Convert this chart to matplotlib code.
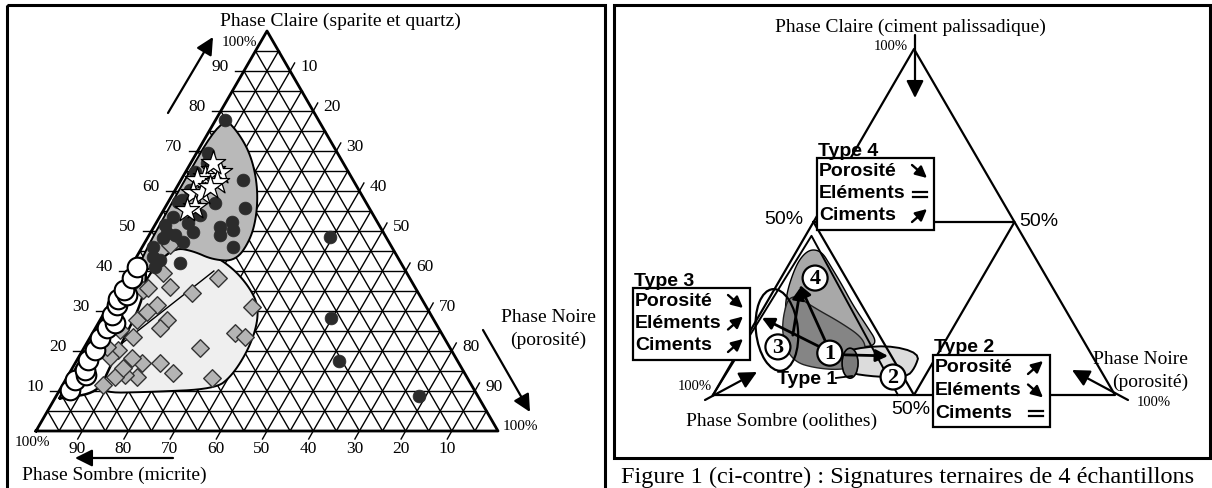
import numpy as np
import matplotlib
matplotlib.use("Agg")
import matplotlib.pyplot as plt
from matplotlib.patches import Polygon, Ellipse, Circle, Rectangle

SERIF = ['Liberation Serif', 'DejaVu Serif']
SANS = ['Liberation Sans', 'DejaVu Sans']
plt.rcParams['font.family'] = SERIF

# ================= DATA =================
# Left diagram: each point given as (Phase Claire %, Phase Noire %); Phase Sombre = 100 - both
micrite_claire = [77.8, 69.5, 67.0, 62.8, 57.0, 55.8, 57.3, 53.5, 52.0, 49.8, 54.0, 51.0,
                  49.0, 52.3, 50.3, 46.0, 49.5, 49.0, 48.3, 47.3, 46.0, 43.5, 42.0, 41.0,
                  42.8, 48.5, 28.3, 17.5, 8.8, 64.8, 57.8, 60.3, 54.5, 51.5]
micrite_noire = [2.0, 2.5, 3.5, 13.4, 10.2, 17.3, 2.1, 2.9, 6.9, 9.1, 8.5, 14.3,
                 15.3, 16.3, 17.5, 19.6, 3.6, 5.6, 3.4, 8.2, 2.3, 3.6, 10.2, 5.3,
                 5.4, 39.4, 49.7, 56.8, 78.5, 2.0, 2.7, 3.2, 7.6, 2.2]

star_claire = [65.3, 63.5, 64.8, 62.8, 59.5, 59.5, 56.0, 55.3, 62.3, 61.0, 67.0]
star_noire = [5.7, 4.8, 7.4, 3.5, 4.2, 6.2, 6.4, 5.0, 8.0, 7.2, 4.8]

open_claire = [10.3, 12.8, 14.0, 15.3, 17.8, 20.3, 23.3, 25.8, 27.0, 29.0, 31.5, 33.0,
               34.0, 35.3, 38.3, 41.0]
open_noire = [2.2, 2.0, 3.8, 3.0, 2.4, 2.6, 2.2, 2.5, 3.5, 1.9, 1.8, 1.2,
              2.7, 1.5, 1.6, 1.4]

diam_claire = [46.5, 39.5, 36.0, 34.5, 38.3, 31.0, 27.8, 25.8, 24.5, 23.5, 20.8, 17.0,
               14.5, 13.3, 17.0, 18.3, 13.5, 14.0, 13.5, 20.3, 18.5, 23.5, 27.8, 35.3,
               31.5, 29.8, 25.3, 21.0, 15.8, 11.5, 35.8]
diam_noire = [5.8, 7.7, 11.0, 16.5, 20.3, 31.3, 14.5, 13.9, 30.8, 33.5, 25.1, 18.3,
              22.4, 31.4, 14.4, 11.6, 15.1, 12.3, 10.3, 7.6, 6.8, 9.2, 8.0, 5.5,
              10.4, 9.1, 5.5, 4.9, 10.9, 8.7, 6.3]

# region outlines (Claire %, Noire %)
zone_sparite_claire = [78.8, 74.8, 69.0, 61.5, 54.0, 47.8, 42.5, 42.8, 45.0, 45.8, 42.3, 39.8, 39.8, 60.0]
zone_sparite_noire = [0.9, 6.3, 12.0, 17.2, 20.8, 22.5, 22.0, 16.9, 11.5, 7.2, 5.3, 3.7, 1.3, 0.8]
zone_micrite_claire = [9.5, 9.75, 10.5, 13.75, 20.25, 26.5, 31.5, 35.75, 40.25, 43.75, 45.75,
                       45.75, 42.25, 35.25, 24.0, 14.0]
zone_micrite_noire = [8.7, 19.8, 33.5, 35.5, 35.8, 34.6, 32.3, 28.4, 22.9, 16.9, 11.5,
                      7.2, 5.3, 4.9, 6.2, 7.9]
zone_open_claire = [8.25, 9.5, 16.0, 22.75, 31.0, 38.5, 43.25, 43.25, 25.0, 7.75]
zone_open_noire = [1.1, 8.7, 8.0, 7.5, 7.0, 4.8, 1.5, 0.4, 0.6, 0.9]

tick_values = [10, 20, 30, 40, 50, 60, 70, 80, 90]

# Right diagram (Claire %, Noire %)
sample_ids = ['1', '2', '3', '4']
sample_claire = [12.1, 5.2, 13.9, 33.8]
sample_noire = [23.0, 42.2, 9.2, 8.5]

zone4_claire = [42.2, 41.3, 37.6, 31.8, 26.0, 20.2, 15.0, 13.6, 15.9, 20.2, 21.7, 28.9, 36.7, 40.5]
zone4_noire = [3.5, 6.5, 10.3, 16.2, 21.8, 28.0, 33.5, 31.0, 23.6, 14.0, 7.1, 3.7, 2.0, 2.1]
zone_dark_claire = [29.8, 25.1, 21.1, 16.5, 12.4, 8.7, 7.2, 7.8, 9.5, 14.5, 21.7]
zone_dark_noire = [4.3, 12.8, 21.0, 29.1, 31.9, 32.2, 28.0, 21.5, 15.6, 10.4, 6.3]
zone2_claire = [13.0, 14.5, 12.1, 7.8, 5.2, 5.2, 6.4, 10.1]
zone2_noire = [26.3, 36.0, 45.4, 46.3, 45.6, 38.2, 30.1, 27.0]

# evolution arrows: (tail Claire, tail Noire, head Claire, head Noire)
evol_arrows = [(11.6, 27.0, 11.3, 37.9),
               (13.6, 20.3, 22.3, 1.0),
               (15.3, 20.4, 31.8, 5.7),
               (17.3, 11.2, 31.2, 6.2)]

# ================= HELPERS =================
def tern(tri, C, N):
    BL, BR, T = tri
    C = np.asarray(C, float); N = np.asarray(N, float)
    S = 100.0 - C - N
    x = (S * BL[0] + C * T[0] + N * BR[0]) / 100.0
    y = (S * BL[1] + C * T[1] + N * BR[1]) / 100.0
    return x, y

def chaikin(x, y, it=3):
    P = np.column_stack([x, y])
    for _ in range(it):
        Q = []
        n = len(P)
        for i in range(n):
            a = P[i]; b = P[(i + 1) % n]
            Q.append(0.75 * a + 0.25 * b)
            Q.append(0.25 * a + 0.75 * b)
        P = np.array(Q)
    return P

fig = plt.figure(figsize=(12.12, 4.88), dpi=100)
ax = fig.add_axes([0, 0, 1, 1])
ax.set_xlim(0, 1212)
ax.set_ylim(488, 0)
ax.axis('off')

# frames
ax.add_patch(Rectangle((7, 5), 598, 500, fill=False, lw=2.2, ec='black', zorder=10))
ax.add_patch(Rectangle((614, 5), 596, 453, fill=False, lw=2.2, ec='black', zorder=10))

# ================= LEFT TERNARY =================
LT = ((36, 431), (498, 431), (267, 31))
for v in range(5, 100, 5):
    x, y = tern(LT, [v, v], [0, 100 - v]); ax.plot(x, y, color='black', lw=1.0, zorder=1)
    x, y = tern(LT, [0, 100 - v], [v, v]); ax.plot(x, y, color='black', lw=1.0, zorder=1)
    x, y = tern(LT, [100 - v, 0], [0, 100 - v]); ax.plot(x, y, color='black', lw=1.0, zorder=1)

for v in tick_values:
    x, y = tern(LT, [v], [0])
    ax.plot([x[0], x[0] - 9], [y[0], y[0]], color='black', lw=1.0)
    ax.text(x[0] - 24, y[0] - 4, str(v), ha='center', va='center', fontsize=12.5)
    x, y = tern(LT, [100 - v], [v])
    ax.plot([x[0], x[0] + 4.5], [y[0], y[0] - 8], color='black', lw=1.0)
    ax.text(x[0] + 19, y[0] - 4, str(v), ha='center', va='center', fontsize=12.5)
    x, y = tern(LT, [0], [100 - v])
    ax.plot([x[0], x[0] - 4.5], [y[0], y[0] + 8], color='black', lw=1.0)
    ax.text(x[0] - 5, y[0] + 18, str(v), ha='center', va='center', fontsize=12.5)

bx, by = tern(LT, [0, 0, 100, 0], [0, 100, 0, 0])
ax.plot(bx, by, color='black', lw=2.0, zorder=3)

for cl, no, fc, lw in [(zone_micrite_claire, zone_micrite_noire, '#efefef', 1.4),
                       (zone_sparite_claire, zone_sparite_noire, '#b9b9b9', 1.4),
                       (zone_open_claire, zone_open_noire, 'white', 1.8)]:
    x, y = tern(LT, cl, no)
    ax.add_patch(Polygon(chaikin(x, y, 3), closed=True, fc=fc, ec='black', lw=lw, zorder=2))
x, y = tern(LT, [20, 40], [6.5, 18.5])
ax.plot(x, y, color='black', lw=1.0, zorder=2.5)

x, y = tern(LT, diam_claire, diam_noire)
ax.scatter(x, y, marker='D', s=80, fc='#b4b4b4', ec='#333333', lw=1.0, zorder=4)
x, y = tern(LT, open_claire, open_noire)
ax.scatter(x, y, marker='o', s=200, fc='white', ec='black', lw=1.5, zorder=5)
x, y = tern(LT, micrite_claire, micrite_noire)
ax.scatter(x, y, marker='o', s=85, fc='#2b2b2b', ec='#2b2b2b', lw=0.5, zorder=5)
x, y = tern(LT, star_claire, star_noire)
ax.scatter(x, y, marker='*', s=340, fc='white', ec='black', lw=0.9, zorder=6)

ax.text(340, 21, 'Phase Claire (sparite et quartz)', ha='center', va='center', fontsize=14)
ax.text(257, 42, '100%', ha='right', va='center', fontsize=11)
ax.text(503, 427, '100%', ha='left', va='center', fontsize=11)
ax.text(32, 442, '100%', ha='center', va='center', fontsize=11)
ax.text(548, 317, 'Phase Noire', ha='center', va='center', fontsize=14)
ax.text(548, 340, '(porosité)', ha='center', va='center', fontsize=14)
ax.text(22, 475, 'Phase Sombre (micrite)', ha='left', va='center', fontsize=14)

arr = dict(arrowstyle='-|>', color='black', lw=1.6, mutation_scale=26, shrinkA=0, shrinkB=0)
ax.annotate('', xy=(213, 37), xytext=(168, 113), arrowprops=arr)
ax.annotate('', xy=(75, 458), xytext=(173, 458), arrowprops=arr)
ax.annotate('', xy=(530, 412), xytext=(483, 330), arrowprops=arr)

# ================= RIGHT TERNARY =================
RT = ((713, 395), (1115, 395), (914, 49))
x, y = tern(RT, [0, 0, 100, 0], [0, 100, 0, 0])
ax.plot(x, y, color='black', lw=1.6, zorder=3)
x, y = tern(RT, [50, 50, 0, 50], [0, 50, 50, 0])
ax.plot(x, y, color='black', lw=1.6, zorder=3)
x, y = tern(RT, [0, 46, 0], [0, 1.5, 46])
ax.plot(x, y, color='black', lw=1.4, zorder=3)

x, y = tern(RT, zone4_claire, zone4_noire)
ax.add_patch(Polygon(chaikin(x, y, 3), closed=True, fc='#a8a8a8', ec='black', lw=1.0, zorder=2))
x, y = tern(RT, zone_dark_claire, zone_dark_noire)
ax.add_patch(Polygon(chaikin(x, y, 3), closed=True, fc='#858585', ec='#222222', lw=1.0, zorder=2.1))
x, y = tern(RT, zone2_claire, zone2_noire)
ax.add_patch(Polygon(chaikin(x, y, 2), closed=True, fc='#dcdcdc', ec='black', lw=1.4, zorder=2.2))
ex, ey = tern(RT, [9.2], [29.5])
ax.add_patch(Ellipse((ex[0], ey[0]), 16, 30, fc='#7a7a7a', ec='black', lw=1.2, zorder=2.3))
ex, ey = tern(RT, [18.8], [6.5])
ax.add_patch(Ellipse((ex[0], ey[0]), 42, 82, angle=-6, fill=False, ec='black', lw=1.6, zorder=2.4))

for tc, tn, hc, hn in evol_arrows:
    x, y = tern(RT, [tc, hc], [tn, hn])
    ax.annotate('', xy=(x[1], y[1]), xytext=(x[0], y[0]),
                arrowprops=dict(arrowstyle='-|>', color='black', lw=2.0,
                                mutation_scale=18, shrinkA=0, shrinkB=0), zorder=4)

x, y = tern(RT, sample_claire, sample_noire)
for lab, xi, yi in zip(sample_ids, x, y):
    ax.add_patch(Circle((xi, yi), 12.5, fc='white', ec='black', lw=1.6, zorder=5))
    ax.text(xi, yi + 1, lab, ha='center', va='center', fontsize=16, fontweight='bold', zorder=6)

ax.text(910, 27, 'Phase Claire (ciment palissadique)', ha='center', va='center', fontsize=14)
ax.text(908, 47, '100%', ha='right', va='center', fontsize=10.5)
ax.text(782, 421, 'Phase Sombre (oolithes)', ha='center', va='center', fontsize=14)
ax.text(695, 387, '100%', ha='center', va='center', fontsize=10.5)
ax.text(1188, 360, 'Phase Noire', ha='right', va='center', fontsize=14)
ax.text(1188, 382, '(porosité)', ha='right', va='center', fontsize=14)
ax.text(1154, 402, '100%', ha='center', va='center', fontsize=10.5)
ax.text(784, 220, '50%', ha='center', va='center', fontsize=14, family=SANS)
ax.text(1039, 221, '50%', ha='center', va='center', fontsize=14, family=SANS)
ax.text(911, 410, '50%', ha='center', va='center', fontsize=14, family=SANS)

ax.annotate('', xy=(915, 98), xytext=(915, 35), arrowprops=arr)
ax.annotate('', xy=(757, 372), xytext=(705, 400), arrowprops=arr)
ax.annotate('', xy=(1072, 370), xytext=(1128, 400), arrowprops=arr)

boxes = [('Type 4', (817, 158, 117, 72), ['dn', 'eq', 'up']),
         ('Type 3', (633, 288, 117, 72), ['dn', 'up', 'up']),
         ('Type 2', (933, 355, 117, 72), ['up', 'dn', 'eq'])]
for title, (x0, y0, w, h), syms in boxes:
    ax.add_patch(Rectangle((x0, y0), w, h, fc='white', ec='black', lw=1.6, zorder=7))
    ax.text(x0 + 1, y0 - 7, title, ha='left', va='center', fontsize=14, fontweight='bold',
            family=SANS, zorder=8)
    for i, word in enumerate(['Porosité', 'Eléments', 'Ciments']):
        yy = y0 + 13 + i * 22.5
        ax.text(x0 + 2, yy, word, ha='left', va='center', fontsize=14, fontweight='bold',
                family=SANS, zorder=8)
        sx = x0 + w - 14
        s = syms[i]
        if s == 'eq':
            ax.plot([sx - 7, sx + 7], [yy - 2, yy - 2], color='black', lw=1.6, zorder=8)
            ax.plot([sx - 7, sx + 7], [yy + 3, yy + 3], color='black', lw=1.6, zorder=8)
        else:
            d = 1 if s == 'dn' else -1
            ax.annotate('', xy=(sx + 7, yy + 7 * d), xytext=(sx - 8, yy - 6 * d),
                        arrowprops=dict(arrowstyle='-|>', color='black', lw=1.7,
                                        mutation_scale=17, shrinkA=0, shrinkB=0), zorder=8)

ax.text(777, 380, 'Type 1', ha='left', va='center', fontsize=14, fontweight='bold', family=SANS, zorder=8)
ax.plot([836, 852], [378, 376], color='black', lw=1.3, zorder=8)

ax.text(621, 483, 'Figure 1 (ci-contre) : Signatures ternaires de 4 échantillons',
        ha='left', va='baseline', fontsize=17.5)

fig.savefig('out.png', dpi=100)
